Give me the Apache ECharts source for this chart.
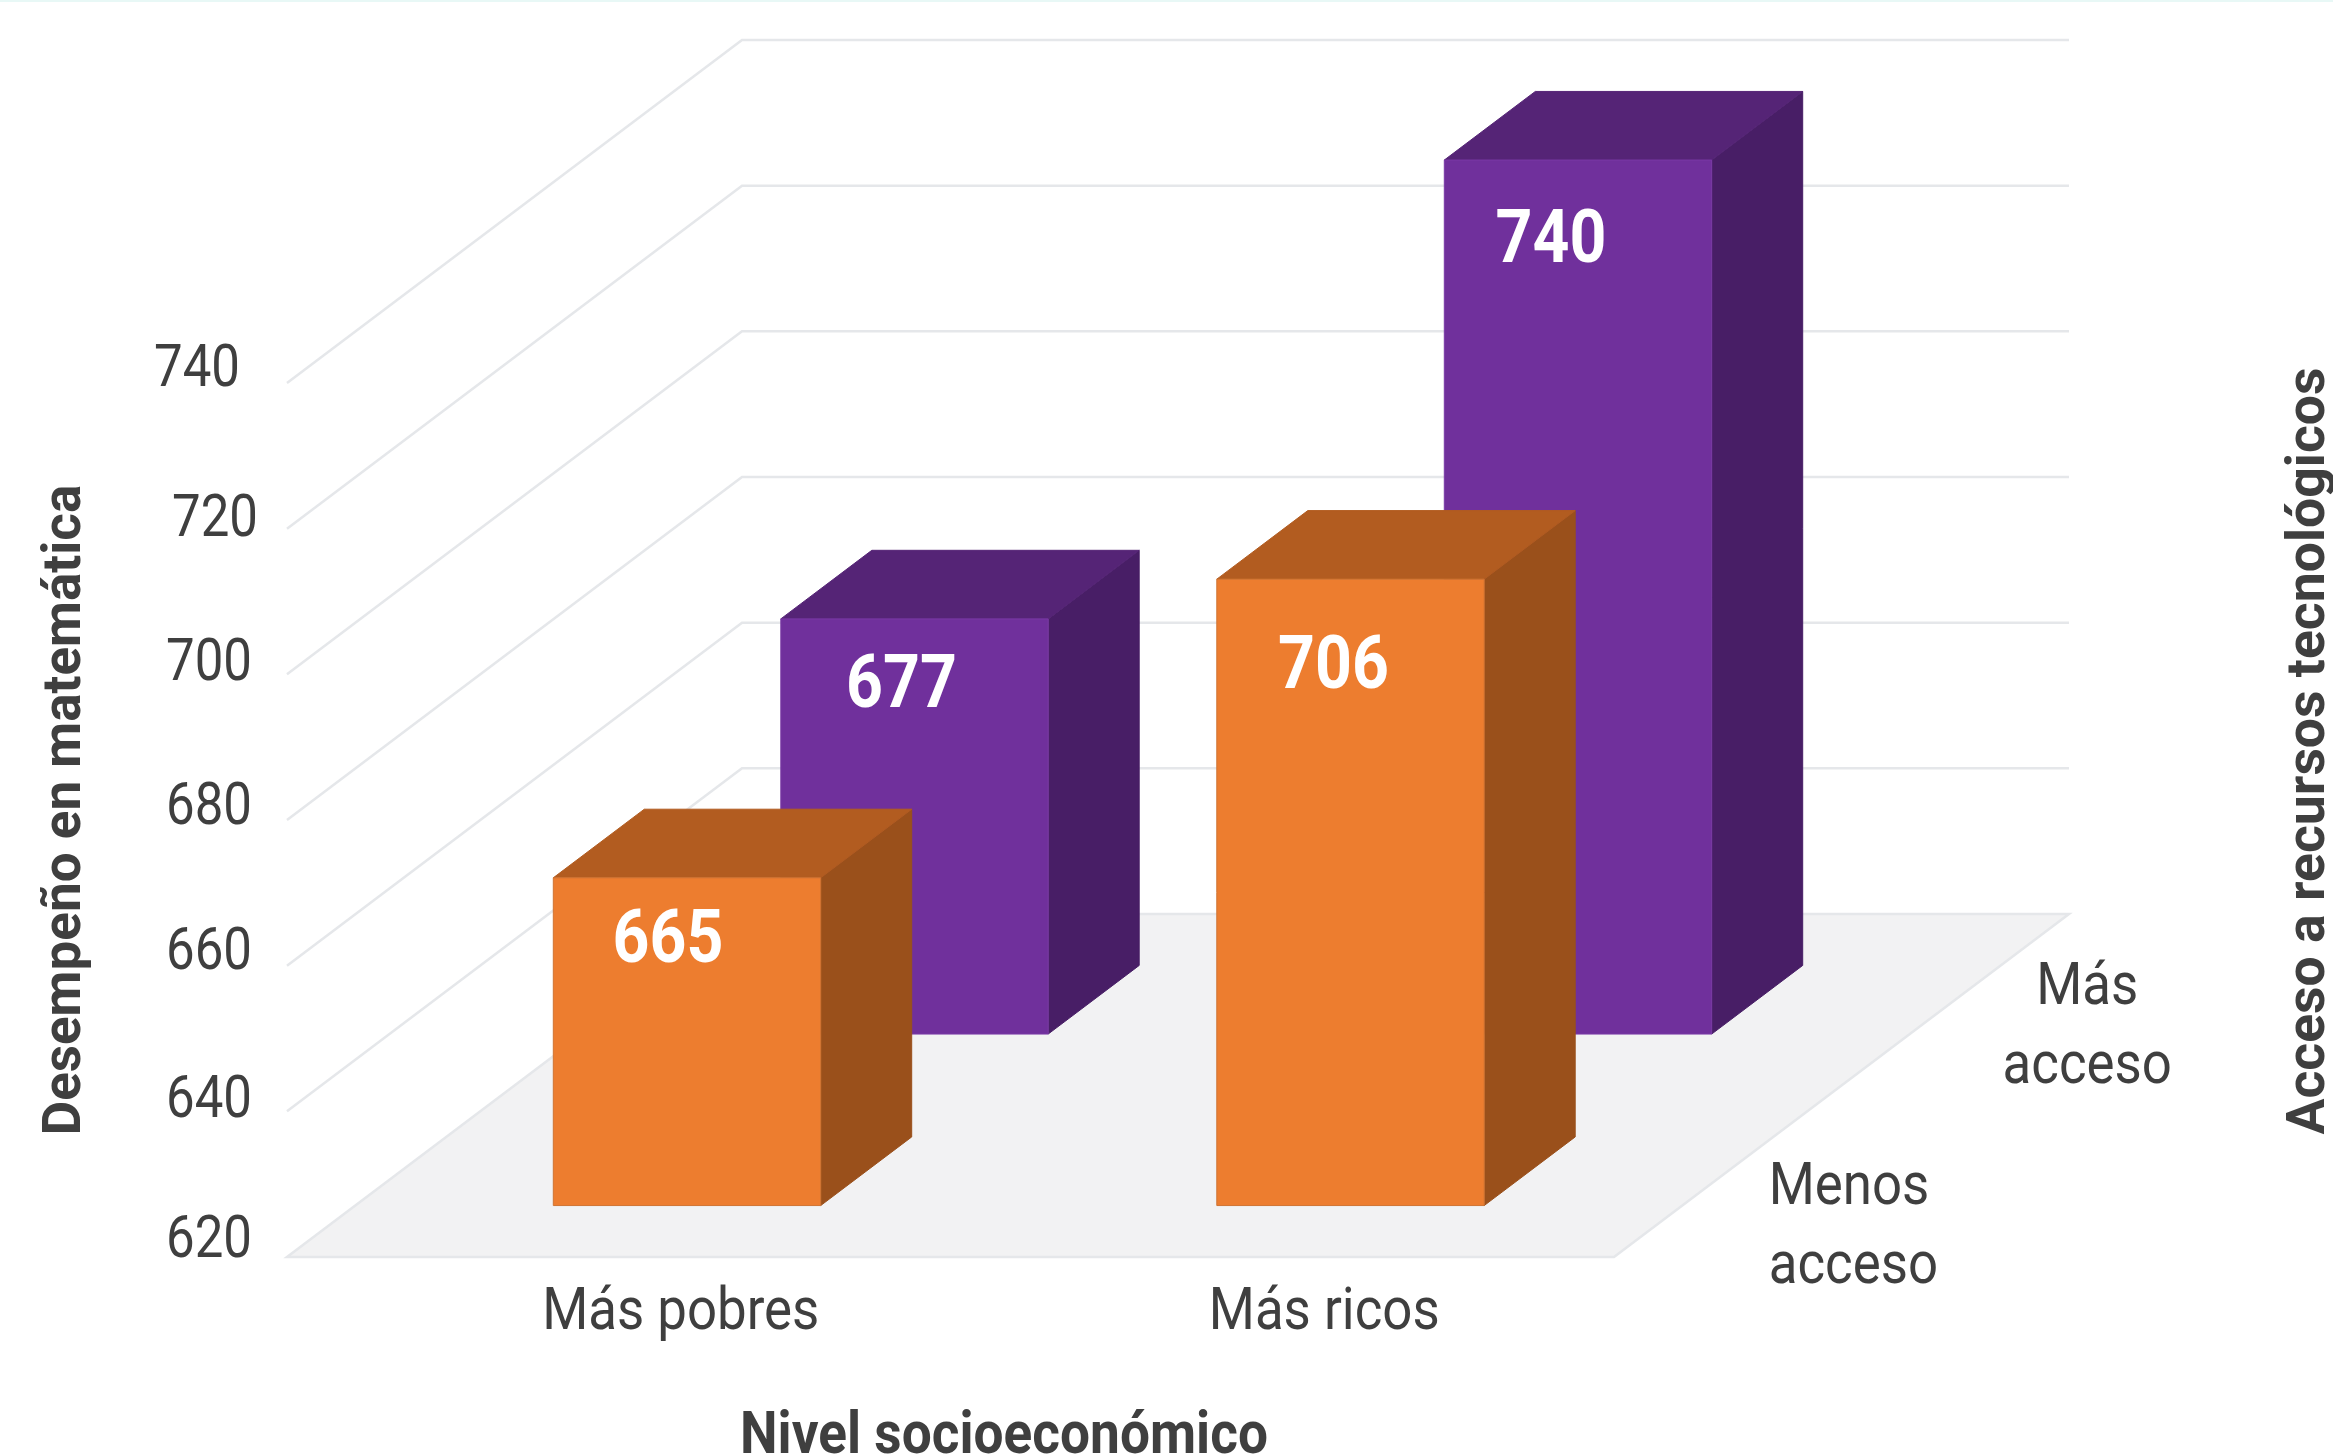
<!DOCTYPE html>
<html>
<head>
  <meta charset="UTF-8" />
  <title>Desempeño en matemática</title>
  <script src="https://cdn.jsdelivr.net/npm/echarts@6/dist/echarts.min.js"></script>
  <style>
    html, body { margin: 0; height: 100%; background-color: #fff; }
    #main { width: 2333px; height: 1456px; }
  </style>
</head>
<body>
  <div id="main"></div>
  <script>
    const incomeLevels = ['Más pobres', 'Más ricos'];
    const accessLevels = ['Menos\nacceso', 'Más\nacceso'];
    const lessAccess = [665, 706];
    const moreAccess = [677, 740];
    const tickValues = [620, 640, 660, 680, 700, 720, 740];

    // proyeccion oblicua: vector de profundidad del piso, en pixeles
    const DEPTH_X = 455, DEPTH_Y = -343;
    const BAR_WIDTH = 0.403, BAR_DEPTH = 0.2;
    const textColor = '#3f3f3f';
    const font = 'Roboto, sans-serif';

    const palette = [
      { front: '#ed7d2f', top: '#b25c20', side: '#9a501b', edge: '#cf7433' },
      { front: '#70309c', top: '#552476', side: '#481e66', edge: '#7a3aa6' }
    ];
    // desplazamiento de las etiquetas de valor respecto al centro superior de la cara frontal
    const labelNudge = { '0-0': [-19, 66], '0-1': [-13, 70], '1-0': [-17, 90], '1-1': [-27, 83] };
    // posicion de cada numero del eje respecto al inicio de su linea: [x, y]
    const tickNudge = {
      620: [-35, -15], 640: [-35, -9], 660: [-35, -12], 680: [-35, -11],
      700: [-35, -9], 720: [-29, -8], 740: [-47, -12]
    };

    // [nivel, acceso, valor]; primero lo del fondo para que lo de adelante lo tape
    const barData = [];
    moreAccess.forEach((v, i) => barData.push([i, 1, v]));
    lessAccess.forEach((v, i) => barData.push([i, 0, v]));

    function poly(points, fill, stroke) {
      return {
        type: 'polygon',
        shape: { points },
        style: { fill, stroke: stroke || fill, lineWidth: 1 }
      };
    }

    // texto angostado con scaleX porque no hay Roboto Condensed instalada
    function label(text, x, y, size, weight, squeeze, align) {
      return {
        type: 'text',
        x, y,
        scaleX: squeeze,
        style: {
          text,
          fill: textColor,
          font: `${weight} ${size}px ${font}`,
          textAlign: align || 'center',
          textVerticalAlign: 'middle'
        }
      };
    }

    function renderBar(params, api) {
      const i = api.value(0), a = api.value(1), v = api.value(2);
      const band = api.size([1, 0])[0];
      const z = 0.15 + a * 0.5;
      const base = api.coord([i, 620]);
      const topY = api.coord([i, v])[1];
      const w = band * BAR_WIDTH;
      const x0 = base[0] - w / 2 + z * DEPTH_X;
      const x1 = x0 + w;
      const y0 = base[1] + z * DEPTH_Y;
      const y1 = topY + z * DEPTH_Y;
      const dx = BAR_DEPTH * DEPTH_X, dy = BAR_DEPTH * DEPTH_Y;
      const c = palette[a];
      const nudge = labelNudge[i + '-' + a];
      const valueLabel = label(String(v), (x0 + x1) / 2 + nudge[0], y1 + nudge[1], 74, 'bold', 0.87);
      valueLabel.style.fill = '#fff';
      return {
        type: 'group',
        children: [
          poly([[x1, y1], [x1 + dx, y1 + dy], [x1 + dx, y0 + dy], [x1, y0]], c.side),
          poly([[x0, y1], [x0 + dx, y1 + dy], [x1 + dx, y1 + dy], [x1, y1]], c.top),
          poly([[x0, y1], [x1, y1], [x1, y0], [x0, y0]], c.front, c.edge),
          valueLabel
        ]
      };
    }

    function renderFloor(params, api) {
      const cs = params.coordSys;
      const y = api.coord([0, api.value(0)])[1];
      const l = cs.x, r = cs.x + cs.width;
      return {
        type: 'polygon',
        shape: { points: [[l, y], [r, y], [r + DEPTH_X, y + DEPTH_Y], [l + DEPTH_X, y + DEPTH_Y]] },
        style: { fill: '#f2f2f3', stroke: '#e5e7ea', lineWidth: 2.5 }
      };
    }

    function renderWall(params, api) {
      const cs = params.coordSys;
      const y = api.coord([0, api.value(0)])[1];
      const l = cs.x, r = cs.x + cs.width;
      return {
        type: 'polyline',
        shape: { points: [[l, y], [l + DEPTH_X, y + DEPTH_Y], [r + DEPTH_X, y + DEPTH_Y]] },
        style: { fill: null, stroke: '#e5e7ea', lineWidth: 2.5 }
      };
    }

    function renderTick(params, api) {
      const v = api.value(0);
      const y = api.coord([0, v])[1];
      const nudge = tickNudge[v];
      return label(String(v), params.coordSys.x + nudge[0], y + nudge[1], 60, 'normal', 0.85, 'right');
    }

    function renderIncomeLabel(params, api) {
      const i = params.dataIndex;
      const p = api.coord([i, 620]);
      return label(incomeLevels[i], p[0] + (i === 0 ? 62 : 42), p[1] + 57, 60, 'normal', 0.88);
    }

    function renderAccessLabel(params, api) {
      const cs = params.coordSys;
      const i = params.dataIndex;
      const z = 0.25 + i * 0.5;
      const y = api.coord([0, 620])[1];
      const shift = i === 0 ? [41, 57] : [132, 29];
      const el = label(accessLevels[i], cs.x + cs.width + z * DEPTH_X + shift[0], y + z * DEPTH_Y + shift[1], 60, 'normal', 0.88, i === 0 ? 'left' : 'center');
      el.style.lineHeight = 79;
      return el;
    }

    const chart = echarts.init(document.getElementById('main'));
    chart.setOption({
      backgroundColor: '#fff',
      animation: false,
      graphic: [
        { type: 'rect', left: 0, top: 0, shape: { width: 2333, height: 2 }, style: { fill: '#e8f8f6' } },
        {
          type: 'text',
          x: 2311,
          y: 751,
          rotation: Math.PI / 2,
          style: {
            text: 'Acceso a recursos tecnológicos',
            fill: textColor,
            font: `bold 53.5px ${font}`,
            textAlign: 'center',
            textVerticalAlign: 'middle'
          }
        },
        {
          type: 'text',
          x: 1004,
          y: 1438,
          scaleX: 0.887,
          style: {
            text: 'Nivel socioeconómico',
            fill: textColor,
            font: `bold 60px ${font}`,
            textAlign: 'center',
            textVerticalAlign: 'middle'
          }
        }
      ],
      grid: { left: 287, width: 1327, top: 383, height: 874 },
      xAxis: {
        type: 'category',
        data: incomeLevels,
        axisLine: { show: false },
        axisTick: { show: false },
        axisLabel: { show: false }
      },
      yAxis: {
        type: 'value',
        min: 620,
        max: 740,
        interval: 20,
        name: 'Desempeño en matemática',
        nameLocation: 'middle',
        nameRotate: 90,
        nameGap: 194,
        nameTextStyle: { color: textColor, fontFamily: font, fontWeight: 'bold', fontSize: 53, padding: [0, 0, 0, 20] },
        axisLine: { show: false },
        axisTick: { show: false },
        splitLine: { show: false },
        axisLabel: { show: false }
      },
      series: [
        { type: 'custom', silent: true, clip: false, z: 1, data: tickValues.slice(1), renderItem: renderWall, encode: { y: 0 } },
        { type: 'custom', silent: true, clip: false, z: 2, data: tickValues.slice(0, 1), renderItem: renderFloor, encode: { y: 0 } },
        { type: 'custom', silent: true, clip: false, z: 3, data: barData, renderItem: renderBar, encode: { x: 0, y: 2 } },
        { type: 'custom', silent: true, clip: false, z: 4, data: tickValues, renderItem: renderTick, encode: { y: 0 } },
        { type: 'custom', silent: true, clip: false, z: 4, data: incomeLevels, renderItem: renderIncomeLabel },
        { type: 'custom', silent: true, clip: false, z: 4, data: accessLevels, renderItem: renderAccessLabel }
      ]
    });
  </script>
</body>
</html>
